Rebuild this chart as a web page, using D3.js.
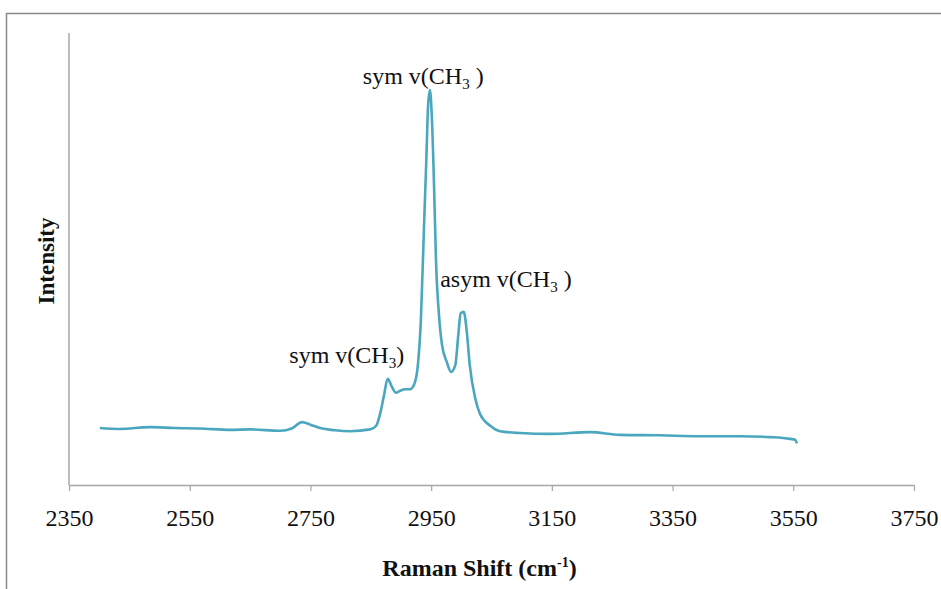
<!DOCTYPE html>
<html>
<head>
<meta charset="utf-8">
<script src="https://cdn.jsdelivr.net/npm/d3@7"></script>
<style>
  body { margin: 0; background: #fff; }
  svg text { font-family: "Liberation Serif", "Times New Roman", serif; fill: #111; }
</style>
</head>
<body>
<div id="wrapper"></div>
<script>
// Raman shift (cm-1) and intensity (arbitrary units)
const shift = [2401, 2434, 2484, 2526, 2567, 2617, 2650, 2700, 2719, 2736, 2749, 2766, 2791, 2816, 2849,
  2859, 2865, 2872, 2878, 2885, 2892, 2898, 2907, 2915, 2922, 2928, 2933, 2938, 2942, 2945, 2948,
  2951, 2955, 2958, 2963, 2968, 2976, 2983, 2990, 2995, 2999, 3004, 3009, 3014, 3023, 3031, 3048,
  3064, 3097, 3147, 3213, 3263, 3329, 3395, 3462, 3511, 3545, 3553, 3556];
const intensity = [12.6, 12.4, 12.8, 12.6, 12.5, 12.2, 12.3, 12.0, 12.5, 13.9, 13.4, 12.6, 12.1, 11.9, 12.3,
  13.1, 15.5, 19.9, 23.5, 21.7, 20.4, 20.8, 21.2, 21.2, 22.3, 26.5, 36.5, 56.4, 71.9, 84.1, 87.4,
  81.9, 65.3, 49.8, 37.6, 31.0, 27.2, 25.0, 26.5, 33.2, 38.0, 38.3, 34.0, 26.5, 19.2, 15.7, 13.1,
  11.9, 11.5, 11.3, 11.7, 11.1, 11.0, 10.8, 10.8, 10.6, 10.2, 10.0, 9.2];
const xTicks = [2350, 2550, 2750, 2950, 3150, 3350, 3550, 3750];
// peak labels: [prefix, subscript, suffix, anchor shift, anchor intensity, text-anchor]
const labels = [
  ["sym v(CH", "3", " )", 2937, 88.8, "middle"],
  ["asym v(CH", "3", " )", 2965, 43.8, "start"],
  ["sym v(CH", "3", ")", 2715, 27.0, "start"]
];

const data = shift.map((s, i) => ({x: s, y: intensity[i]}));

let dimensions = {
  width: 941,
  height: 589,
  margin: {top: 33, left: 69, bottom: 104, right: 27}
};
dimensions.boundedWidth = dimensions.width - dimensions.margin.left - dimensions.margin.right;
dimensions.boundedHeight = dimensions.height - dimensions.margin.top - dimensions.margin.bottom;

const wrapper = d3.select("#wrapper").append("svg")
  .attr("width", dimensions.width)
  .attr("height", dimensions.height);

// outer frame (top and left edges only visible)
wrapper.append("path")
  .attr("d", "M6.5,589 V13.5 H941")
  .attr("fill", "none")
  .attr("stroke", "#8a8a8a")
  .attr("stroke-width", 1.5);

const container = wrapper.append("g")
  .attr("transform", `translate(${dimensions.margin.left}, ${dimensions.margin.top})`);

const xScale = d3.scaleLinear()
  .domain([2350, 3750])
  .range([0, dimensions.boundedWidth]);
const yScale = d3.scaleLinear()
  .domain([0, 100])
  .range([dimensions.boundedHeight, 0]);

// x axis
const xAxisGen = d3.axisBottom(xScale).tickValues(xTicks).tickFormat(d3.format("d"))
  .tickSizeInner(6).tickSizeOuter(0).tickPadding(18);
const axisX = container.append("g")
  .attr("transform", `translate(0, ${dimensions.boundedHeight})`)
  .call(xAxisGen);
axisX.select(".domain").attr("stroke", "#a6a6a6").attr("stroke-width", 1.5);
axisX.selectAll(".tick line").attr("stroke", "#a6a6a6").attr("stroke-width", 1.2);
axisX.selectAll(".tick text")
  .style("font-family", "Liberation Serif")
  .style("font-size", "24px")
  .attr("fill", "#111");

// y axis (no ticks)
container.append("line")
  .attr("x1", 0).attr("x2", 0)
  .attr("y1", 0).attr("y2", dimensions.boundedHeight)
  .attr("stroke", "#a6a6a6")
  .attr("stroke-width", 1.5);

// spectrum
const line = d3.line()
  .x(d => xScale(d.x))
  .y(d => yScale(d.y))
  .curve(d3.curveMonotoneX);
container.append("path")
  .datum(data)
  .attr("d", line)
  .attr("fill", "none")
  .attr("stroke", "#4aa7bf")
  .attr("stroke-width", 2.6)
  .attr("stroke-linejoin", "round");

// peak labels
labels.forEach(l => {
  const t = container.append("text")
    .attr("x", xScale(l[3]))
    .attr("y", yScale(l[4]))
    .attr("text-anchor", l[5])
    .style("font-size", "24px");
  t.append("tspan").text(l[0]);
  t.append("tspan").attr("dy", 5).style("font-size", "15px").text(l[1]);
  t.append("tspan").attr("dy", -5).text(l[2]);
});

// X label
const xl = container.append("text")
  .attr("x", dimensions.boundedWidth / 2 - 12)
  .attr("y", dimensions.boundedHeight + 91)
  .attr("text-anchor", "middle")
  .style("font-weight", "bold")
  .style("font-size", "24px");
xl.append("tspan").text("Raman Shift (cm");
xl.append("tspan").attr("dy", -9).style("font-size", "14px").text("-1");
xl.append("tspan").attr("dy", 9).text(")");

// Y label
container.append("text")
  .attr("transform", `translate(-15, ${dimensions.boundedHeight / 2 + 2}) rotate(-90)`)
  .attr("text-anchor", "middle")
  .style("font-weight", "bold")
  .style("font-size", "23px")
  .text("Intensity");
</script>
</body>
</html>
